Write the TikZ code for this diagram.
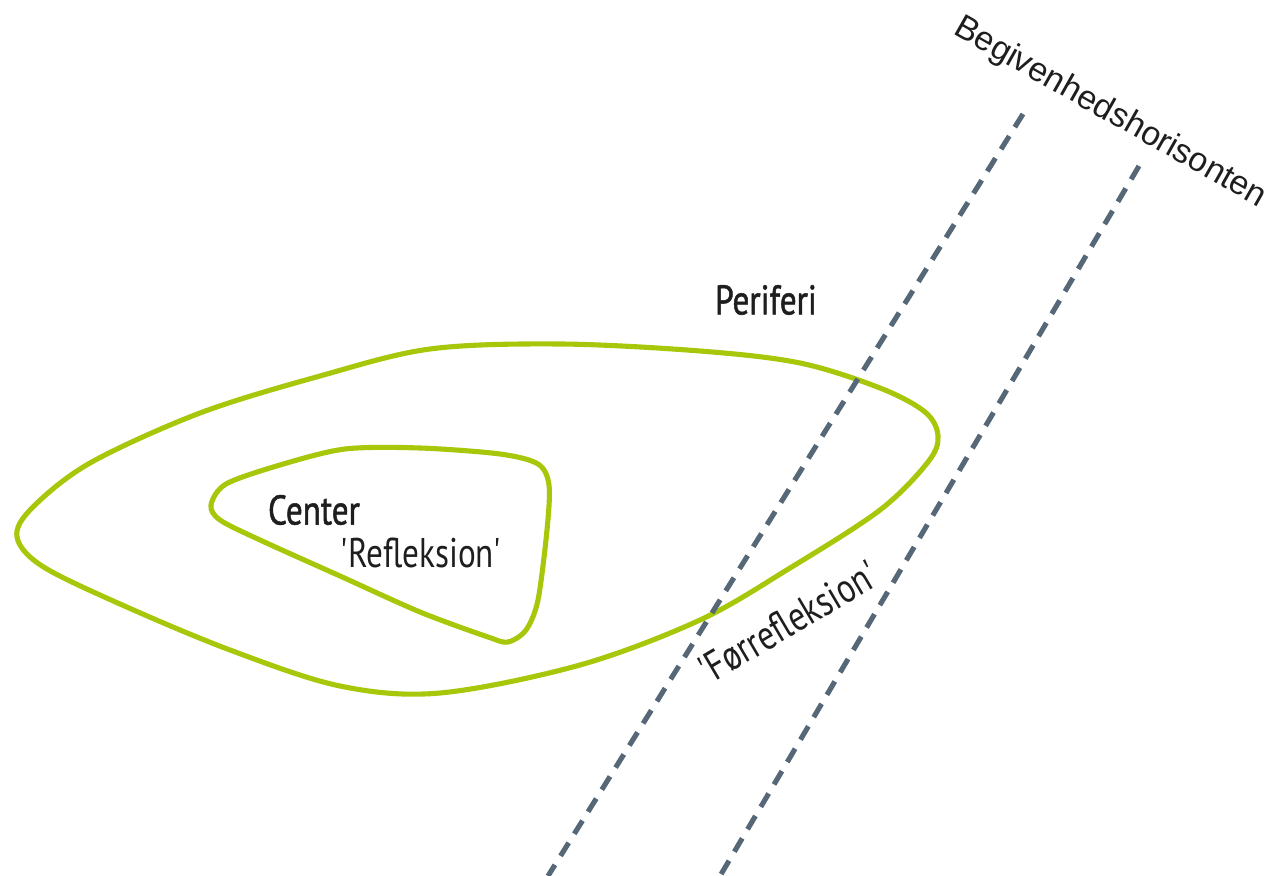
\documentclass[tikz,border=0pt]{standalone}
\usepackage{fontspec}
\newfontfamily\labelfont[FakeStretch=0.8]{PT Sans}
\newfontfamily\labelfontmed[FakeStretch=0.8, FakeBold=1.2]{PT Sans}
\newfontfamily\horizonfont{Liberation Sans}
\definecolor{zonegreen}{HTML}{A6C70A}
\definecolor{horizongrey}{HTML}{566878}
\definecolor{textdark}{HTML}{1E1E1E}
\tikzset{
  zone/.style={draw=zonegreen, line width=1.45pt, line join=round},
  horizon/.style={draw=horizongrey, line width=1.45pt, dash pattern=on 4.4pt off 3pt},
  lbl/.style={text=textdark, inner sep=0pt, font=\labelfontmed\fontsize{11.8}{13}\selectfont},
  lbllight/.style={text=textdark, inner sep=0pt, font=\labelfont\fontsize{11.8}{13}\selectfont},
  horizonlbl/.style={text=textdark, inner sep=0pt, font=\horizonfont\fontsize{9.6}{11}\selectfont}
}
\begin{document}
\begin{tikzpicture}[x=0.01cm,y=-0.01cm]
\useasboundingbox (0,0) rectangle (1278,876);

% outer zone: the periphery
\draw[zone] plot[smooth cycle, tension=0.55] coordinates {
  (430,349) (560,344) (700,351) (800,363) (880,388) (925,412) (938,436)
  (928,462) (880,510) (790,568) (700,620) (580,665) (440,693) (340,686)
  (230,650) (120,604) (42,566) (17,537) (32,508) (90,463) (200,413) (320,376)};

% inner zone: the centre
\draw[zone] plot[smooth cycle, tension=0.5] coordinates {
  (211,505) (226,484) (280,465) (345,449) (420,448) (500,454) (538,464)
  (549,485) (547,530) (538,600) (526,630) (508,642) (488,637) (420,612)
  (340,576) (260,540) (220,520)};

% event horizon lines
\coordinate (h1a) at (1023,114);
\coordinate (h1b) at (548,876);
\coordinate (h2a) at (1139,166);
\coordinate (h2b) at (720,876);
\draw[horizon] (h1a) -- (h1b);
\draw[horizon] (h2a) -- (h2b);

% labels
\node[lbl] (periferi) at (766,300) {Periferi};
\node[lbl] (center) at (314,510) {Center};
\node[lbllight] (refleksion) at (421,553) {'Refleksion'};
\node[lbllight, rotate=30.5] (forrefleksion) at (788,622) {'Førrefleksion'};
\node[horizonlbl, rotate=-29.5] (horisont) at (1110,113) {Begivenhedshorisonten};
\end{tikzpicture}
\end{document}
